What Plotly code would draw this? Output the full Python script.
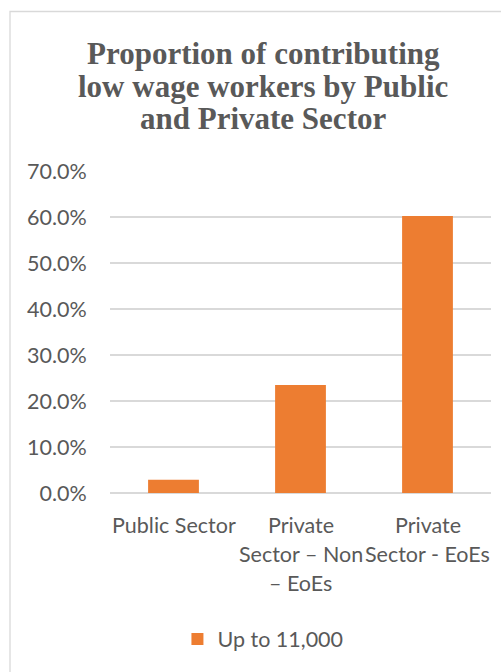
import plotly.graph_objects as go

# Share of contributing low wage workers (earning up to 11,000) by sector
categories = [
    "Public Sector",
    "Private Sector – Non – EoEs",
    "Private Sector - EoEs",
]
label_lines = [
    ["Public Sector"],
    ["Private", "Sector – Non", "– EoEs"],
    ["Private", "Sector - EoEs"],
]
share_up_to_11000 = [0.029, 0.235, 0.602]
series_name = "Up to 11,000"
y_ticks = [0.0, 0.1, 0.2, 0.3, 0.4, 0.5, 0.6, 0.7]
title_lines = [
    "Proportion of contributing",
    "low wage workers by Public",
    "and Private Sector",
]

TEXT = "#595959"
GRID = "#d9d9d9"
ORANGE = "#ED7D31"
FONT = "Lato, 'Open Sans', sans-serif"
TITLE_FONT = "'Liberation Serif', serif"

# Plot-area geometry in pixels (used to place paper-referenced items)
PLOT_LEFT, PLOT_WIDTH = 110, 381
PLOT_BOTTOM, PLOT_HEIGHT = 493, 322


def paper_x(px):
    return (px - PLOT_LEFT) / PLOT_WIDTH


def paper_y(py):
    return (PLOT_BOTTOM - py) / PLOT_HEIGHT


fig = go.Figure()
fig.add_trace(go.Bar(
    x=categories,
    y=share_up_to_11000,
    name=series_name,
    marker=dict(color=ORANGE, line=dict(width=0)),
    width=0.4,
    showlegend=True,
))

# Title, one annotation per line for tight line spacing
for i, line in enumerate(title_lines):
    fig.add_annotation(
        x=paper_x(263), xref="paper",
        y=paper_y(53 + 33 * i), yref="paper",
        text=f"<b>{line}</b>", showarrow=False,
        font=dict(family=TITLE_FONT, size=31, color=TEXT),
        xanchor="center", yanchor="middle",
    )

# Multi-line category labels below the axis, one annotation per line
for cat, lines in zip(categories, label_lines):
    for i, line in enumerate(lines):
        fig.add_annotation(
            x=cat, xref="x",
            y=0, yref="y",
            yshift=-32 - 29 * i,
            text=line, showarrow=False,
            font=dict(family=FONT, size=21.5, color=TEXT),
            xanchor="center", yanchor="middle",
        )

# Chart-area border
fig.add_shape(
    type="rect", xref="paper", yref="paper",
    x0=paper_x(10), x1=1.2, y0=paper_y(11.5), y1=-0.7,
    line=dict(color=GRID, width=1.3),
    fillcolor="rgba(0,0,0,0)",
    layer="below",
)

fig.update_layout(
    width=501, height=672,
    margin=dict(l=110, r=10, t=171, b=179),
    paper_bgcolor="white",
    plot_bgcolor="white",
    xaxis=dict(
        type="category",
        showticklabels=False,
        showgrid=False,
        showline=False,
        zeroline=False,
        range=[-0.5, 2.5],
    ),
    yaxis=dict(
        range=[0, 0.7],
        tickvals=y_ticks,
        tickformat=".1%",
        tickfont=dict(family=FONT, size=21.5, color=TEXT),
        showgrid=True,
        gridcolor=GRID,
        gridwidth=1.5,
        zeroline=True,
        zerolinecolor=GRID,
        zerolinewidth=1.5,
        showline=False,
        ticks="outside",
        ticklen=18,
        tickcolor="rgba(0,0,0,0)",
    ),
    legend=dict(
        orientation="h",
        x=0.177, xanchor="left",
        y=-0.4535, yanchor="middle",
        font=dict(family=FONT, size=21.5, color=TEXT),
        bgcolor="rgba(0,0,0,0)",
        itemwidth=30,
    ),
    bargap=0.6,
)

fig.write_html("out.html")
